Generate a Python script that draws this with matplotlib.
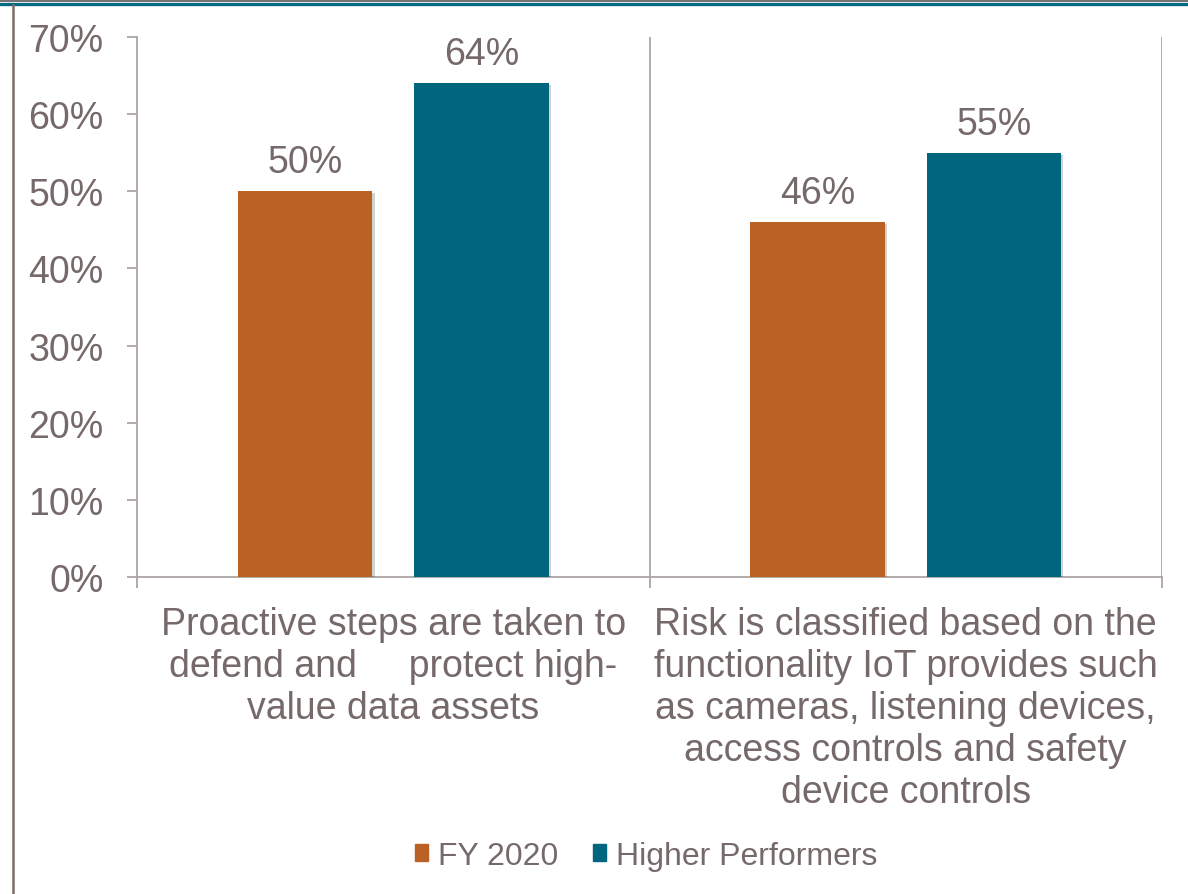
import matplotlib
matplotlib.use("Agg")
import matplotlib.pyplot as plt
from matplotlib.patches import Patch
from matplotlib.lines import Line2D
import matplotlib.patheffects as pe
import numpy as np

plt.rcParams['font.family'] = ['Liberation Sans', 'DejaVu Sans']

categories = [
    "Proactive steps are taken to\ndefend and     protect high-\nvalue data assets",
    "Risk is classified based on the\nfunctionality IoT provides such\nas cameras, listening devices,\naccess controls and safety\ndevice controls",
]
series_names = ["FY 2020", "Higher Performers"]
fy2020 = [50, 46]
higher_performers = [64, 55]
y_ticks = [0, 10, 20, 30, 40, 50, 60, 70]

ORANGE = "#BA6125"
TEAL = "#00667F"
TEXT = "#76696A"
AXIS = "#ABA5A3"

W, H = 1188, 895
fig = plt.figure(figsize=(W / 100, H / 100), dpi=100)

# frame decoration: top rule and left rule
fig.add_artist(Line2D([0, 1], [1 - 2.4 / H, 1 - 2.4 / H], color="#707070", lw=1.4))
fig.add_artist(Line2D([0, 1], [1 - 4.8 / H, 1 - 4.8 / H], color="#006A80", lw=2.4))
fig.add_artist(Line2D([13 / W, 13 / W], [0, 1 - 6 / H], color="#7A6E6C", lw=1.8))

ax = fig.add_axes([137 / W, (H - 578) / H, (1162 - 137) / W, (578 - 38) / H])

x = np.arange(len(categories))
offset = 0.172
width = 0.263
shadow = [pe.SimplePatchShadow(offset=(1.5, -1.5), alpha=0.18, shadow_rgbFace="#000000"), pe.Normal()]
b1 = ax.bar(x - offset, fy2020, width, color=ORANGE, path_effects=shadow, zorder=3)
b2 = ax.bar(x + offset, higher_performers, width, color=TEAL, path_effects=shadow, zorder=3)

for bars, vals in ((b1, fy2020), (b2, higher_performers)):
    for rect, v in zip(bars, vals):
        ax.annotate(f"{v}%", (rect.get_x() + rect.get_width() / 2, v),
                    xytext=(0, 8), textcoords="offset points",
                    ha="center", va="bottom", fontsize=27, color=TEXT)

ax.set_xlim(-0.5, 1.5)
ax.set_ylim(0, 70)

# category separators
for xv in (0.5, 1.5):
    ax.axvline(xv, color=AXIS, lw=1.3, zorder=1)

ax.set_yticks(y_ticks)
ax.set_yticklabels([f"{t}%" for t in y_ticks])
ax.set_xticks(x)
ax.set_xticklabels(categories, linespacing=1.21)
ax.set_xticks([-0.5, 0.5, 1.5], minor=True)

ax.tick_params(axis="y", length=7.5, width=1.3, color=AXIS, pad=16.5,
               labelsize=27, labelcolor=TEXT)
ax.tick_params(axis="x", which="major", length=0, pad=21, labelsize=27, labelcolor=TEXT)
ax.tick_params(axis="x", which="minor", length=8, width=1.3, color=AXIS)

for s in ("top", "right"):
    ax.spines[s].set_visible(False)
for s in ("left", "bottom"):
    ax.spines[s].set_color(AXIS)
    ax.spines[s].set_linewidth(1.3)

handles = [Patch(facecolor=ORANGE, edgecolor=ORANGE), Patch(facecolor=TEAL, edgecolor=TEAL)]
fig.legend(handles, series_names, loc="center", bbox_to_anchor=(646 / W, 1 - 857 / H),
           ncol=2, frameon=False, fontsize=23, labelcolor=TEXT,
           handlelength=0.42, handleheight=0.42, handletextpad=0.3, columnspacing=1.1)

fig.savefig("out.png", dpi=100)
